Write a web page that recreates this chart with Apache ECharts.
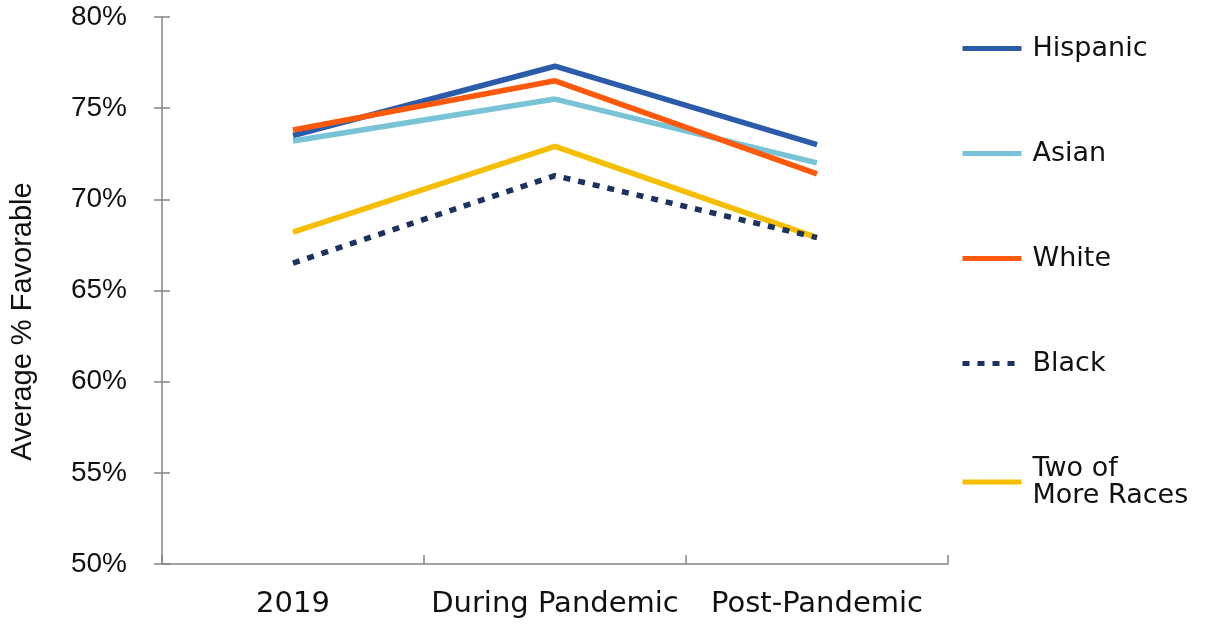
<!DOCTYPE html>
<html>
<head>
<meta charset="utf-8">
<script src="https://cdn.jsdelivr.net/npm/echarts@6/dist/echarts.min.js"></script>
<style>
  html, body { margin: 0; padding: 0; background: #ffffff; }
  #chart { width: 1215px; height: 626px; }
</style>
</head>
<body>
<div id="chart"></div>
<script>
// Survey periods on the x axis
const periods = ['2019', 'During Pandemic', 'Post-Pandemic'];

// Average % favorable by group
const hispanic = [73.5, 77.3, 73.0];
const asian = [73.2, 75.5, 72.0];
const white = [73.8, 76.5, 71.4];
const black = [66.5, 71.3, 67.9];
const twoOrMore = [68.2, 72.9, 67.9];

// Y axis range and tick step (percent)
const yMin = 50;
const yMax = 80;
const yStep = 5;

const groupNames = ['Hispanic', 'Asian', 'White', 'Black', 'Two of More Races'];
const groupValues = [hispanic, asian, white, black, twoOrMore];
const groupColors = ['#2b5ca9', '#78c4d6', '#fe590b', '#1c3360', '#f6be00'];

const axisGray = '#858585';
const labelFont = 'Liberation Sans, Arial, sans-serif';
const textFont = 'DejaVu Sans, sans-serif';

const series = groupNames.map((name, i) => ({
  name: name,
  type: 'line',
  data: groupValues[i],
  symbol: 'none',
  z: name === 'Black' ? 4 : 2,
  lineStyle: {
    color: groupColors[i],
    width: 5.5,
    type: name === 'Black' ? [7, 8] : 'solid',
    cap: 'butt'
  },
  itemStyle: { color: groupColors[i] },
  emphasis: { disabled: true }
}));

const chart = echarts.init(document.getElementById('chart'), null, { renderer: 'canvas' });

chart.setOption({
  animation: false,
  backgroundColor: '#ffffff',
  grid: {
    left: 162, right: 267, top: 17, bottom: 62,
    containLabel: false,
    outerBoundsMode: 'none'
  },
  legend: {
    orient: 'vertical',
    left: 955,
    top: 30,
    itemWidth: 59,
    itemHeight: 14,
    itemGap: 78,
    selectedMode: false,
    itemStyle: { opacity: 0 },
    lineStyle: { width: 5 },
    data: groupNames.map(n => n === 'Two of More Races'
      ? { name: n, textStyle: { padding: [0, 0, -27, 6] } }
      : { name: n }),
    formatter: n => n === 'Two of More Races' ? 'Two of\nMore Races' : n,
    textStyle: {
      fontFamily: textFont,
      fontSize: 27,
      lineHeight: 27,
      color: '#111111',
      padding: [0, 0, 0, 6]
    }
  },
  xAxis: {
    type: 'category',
    data: periods,
    boundaryGap: true,
    axisLine: { show: true, lineStyle: { color: axisGray, width: 1.5 } },
    axisTick: { show: true, inside: true, length: 9, lineStyle: { color: axisGray, width: 1.5 } },
    axisLabel: {
      interval: 0,
      margin: 26,
      fontFamily: textFont,
      fontSize: 29,
      color: '#111111'
    },
    splitLine: { show: false }
  },
  yAxis: [
    {
      type: 'value',
      min: yMin,
      max: yMax,
      interval: yStep,
      name: 'Average % Favorable',
      nameLocation: 'middle',
      nameRotate: 90,
      nameGap: 125,
      nameTextStyle: {
        fontFamily: labelFont,
        fontSize: 29,
        color: '#111111',
        padding: [0, 62, 0, 0]
      },
      axisLine: { show: true, lineStyle: { color: axisGray, width: 1.5 } },
      axisTick: { show: true, length: 8, lineStyle: { color: axisGray, width: 1.5 } },
      axisLabel: {
        margin: 35,
        fontFamily: labelFont,
        fontSize: 28,
        color: '#111111',
        formatter: '{value}%'
      },
      splitLine: { show: false }
    },
    {
      // inner half of the crossing tick marks
      type: 'value',
      min: yMin,
      max: yMax,
      interval: yStep,
      position: 'left',
      offset: 0,
      axisLine: { show: false },
      axisTick: { show: true, inside: true, length: 8, lineStyle: { color: axisGray, width: 1.5 } },
      axisLabel: { show: false },
      splitLine: { show: false }
    }
  ],
  series: series
});
</script>
</body>
</html>
